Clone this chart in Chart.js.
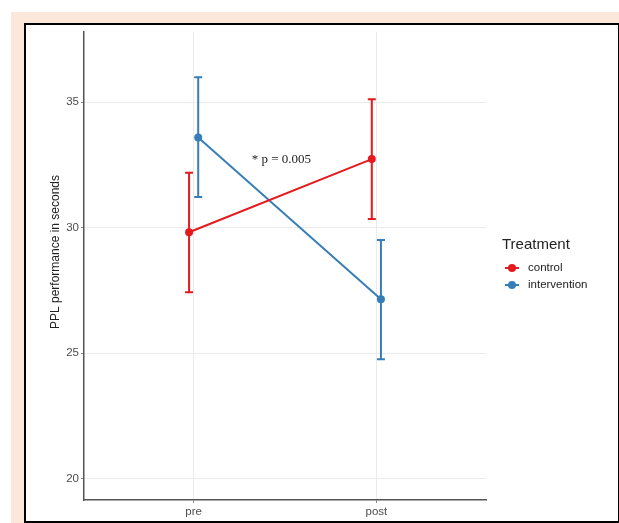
<!DOCTYPE html>
<html>
<head>
<meta charset="utf-8">
<script src="https://cdn.jsdelivr.net/npm/chart.js@4"></script>
<style>
  body { margin: 0; background: #fff; }
  #peach { position: absolute; left: 11px; top: 12px; width: 608px; height: 511px; background: #fbe8da; }
  #panel { position: absolute; left: 24px; top: 23px; width: 592px; height: 496px; background: #fff; border: 2px solid #000; }
  #wrap { position: absolute; left: 0; top: 0; width: 619px; height: 523px; }
</style>
</head>
<body>
<div id="peach"></div>
<div id="panel"></div>
<div id="wrap"><canvas id="myChart" width="619" height="523"></canvas></div>
<script>
// values
var timepoints = ['pre', 'post']
var groups = ['control', 'intervention']
var controlMean = [29.82, 32.73]
var controlLower = [27.43, 30.35]
var controlUpper = [32.19, 35.11]
var interventionMean = [33.59, 27.15]
var interventionLower = [31.22, 24.76]
var interventionUpper = [35.99, 29.51]
var yTicks = [20, 25, 30, 35]
var yTitle = 'PPL performance in seconds'
var legendTitle = 'Treatment'
var annotationText = '* p = 0.005'
var annotationX = 1.48
var annotationY = 32.73

var colors = ['#e41a1c', '#377eb8']
var dodge = 0.025
var sans = '"Liberation Sans", Arial, sans-serif'

function points(means, shift){
  return timepoints.map((t, i) => ({x: i + 1 + shift, y: means[i]}))
}

var errorBars = [
  {lower: controlLower, upper: controlUpper},
  {lower: interventionLower, upper: interventionUpper}
]

var errorBarPlugin = {
  id: 'errorBars',
  beforeDatasetsDraw(chart){
    var ctx = chart.ctx
    var xs = chart.scales.x
    var ys = chart.scales.y
    chart.data.datasets.forEach((ds, d) => {
      ctx.save()
      ctx.strokeStyle = ds.borderColor
      ctx.lineWidth = 2
      ds.data.forEach((p, i) => {
        var x = xs.getPixelForValue(p.x)
        var yl = ys.getPixelForValue(errorBars[d].lower[i])
        var yu = ys.getPixelForValue(errorBars[d].upper[i])
        ctx.beginPath()
        ctx.moveTo(x, yl); ctx.lineTo(x, yu)
        ctx.moveTo(x - 4, yl); ctx.lineTo(x + 4, yl)
        ctx.moveTo(x - 4, yu); ctx.lineTo(x + 4, yu)
        ctx.stroke()
      })
      ctx.restore()
    })
  }
}

var extrasPlugin = {
  id: 'extras',
  afterDraw(chart){
    var ctx = chart.ctx
    var xs = chart.scales.x
    var ys = chart.scales.y
    ctx.save()
    // p-value note
    ctx.fillStyle = '#222'
    ctx.font = '13px "Liberation Serif", serif'
    ctx.textAlign = 'center'
    ctx.textBaseline = 'middle'
    ctx.fillText(annotationText, xs.getPixelForValue(annotationX), ys.getPixelForValue(annotationY))
    // y axis title (sits a bit above the middle, like the original)
    ctx.save()
    ctx.translate(56, 252)
    ctx.rotate(-Math.PI / 2)
    ctx.font = '12px ' + sans
    ctx.fillText(yTitle, 0, 0)
    ctx.restore()
    // legend
    ctx.textAlign = 'left'
    ctx.font = '15px ' + sans
    ctx.fillText(legendTitle, 502, 245)
    ctx.font = '11.5px ' + sans
    chart.data.datasets.forEach((ds, i) => {
      var y = 268 + i * 17
      ctx.strokeStyle = ds.borderColor
      ctx.fillStyle = ds.borderColor
      ctx.lineWidth = 2
      ctx.beginPath()
      ctx.moveTo(505, y); ctx.lineTo(519, y)
      ctx.stroke()
      ctx.beginPath()
      ctx.arc(512, y, 4, 0, Math.PI * 2)
      ctx.fill()
      ctx.fillStyle = '#222'
      ctx.fillText(ds.label, 528, y)
    })
    ctx.restore()
  }
}

var ctx = document.getElementById('myChart').getContext('2d')
var myChart = new Chart(ctx, {
  type: 'line',
  data: {
    datasets: [{
      label: groups[0],
      data: points(controlMean, -dodge),
      borderColor: colors[0],
      backgroundColor: colors[0],
      borderWidth: 2,
      pointRadius: 4,
      pointBorderWidth: 0,
      tension: 0
    },
    {
      label: groups[1],
      data: points(interventionMean, dodge),
      borderColor: colors[1],
      backgroundColor: colors[1],
      borderWidth: 2,
      pointRadius: 4,
      pointBorderWidth: 0,
      tension: 0
    }]
  },
  options: {
    responsive: false,
    animation: false,
    layout: { padding: { left: 0, top: 32, right: 133, bottom: 0 } },
    plugins: { legend: { display: false }, tooltip: { enabled: false } },
    scales: {
      x: {
        type: 'linear',
        min: 0.4,
        max: 2.6,
        afterBuildTicks: (axis) => { axis.ticks = timepoints.map((t, i) => ({value: i + 1})) },
        afterFit: (axis) => { axis.height = 23 },
        ticks: {
          callback: (v) => timepoints[v - 1],
          color: '#4d4d4d',
          font: { family: sans, size: 11.5 },
          padding: 2,
          maxRotation: 0
        },
        grid: { color: '#ebebeb', tickColor: '#888', tickLength: 3 },
        border: { color: '#555', width: 1.5 }
      },
      y: {
        min: 19.16,
        max: 37.79,
        afterBuildTicks: (axis) => { axis.ticks = yTicks.map(v => ({value: v})) },
        afterFit: (axis) => { axis.width = 84 },
        ticks: {
          color: '#4d4d4d',
          font: { family: sans, size: 11.5 },
          padding: 2
        },
        grid: { color: '#ebebeb', tickColor: '#888', tickLength: 3 },
        border: { color: '#555', width: 1.5 }
      }
    }
  },
  plugins: [errorBarPlugin, extrasPlugin]
})
</script>
</body>
</html>
